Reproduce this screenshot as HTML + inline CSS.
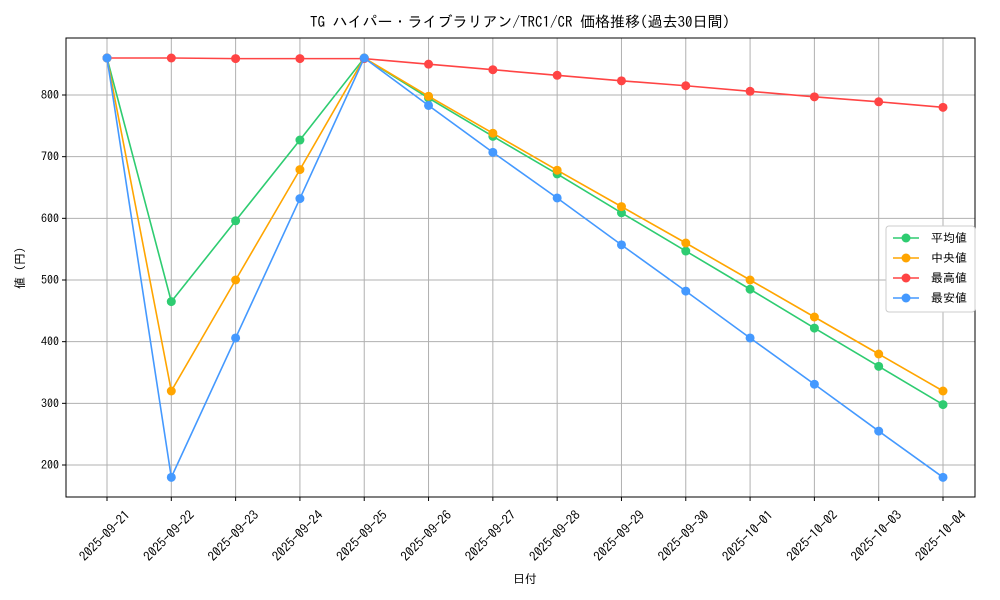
<!DOCTYPE html>
<html><head><meta charset="utf-8"><style>
body{margin:0;background:#fff}
svg{display:block;font-family:"IPAGothic","Liberation Mono","Noto Sans CJK JP",monospace}
</style></head><body>
<svg id="chart" width="1000" height="600" viewBox="0 0 1000 600" xmlns="http://www.w3.org/2000/svg">
<rect width="1000" height="600" fill="#fff"/>
<text x="520" y="27" text-anchor="middle" font-size="15">TG ハイパー・ライブラリアン/TRC1/CR 価格推移(過去30日間)</text>
<g id="grid"></g><g id="axes"></g><g id="series"></g>
<text x="525" y="583" text-anchor="middle" font-size="12">日付</text>
<text x="24" y="268" text-anchor="middle" font-size="12" transform="rotate(-90 24 268)">値 (円)</text>
<g id="legend"></g>
</svg>
<script>
const dates=["2025-09-21","2025-09-22","2025-09-23","2025-09-24","2025-09-25","2025-09-26","2025-09-27","2025-09-28","2025-09-29","2025-09-30","2025-10-01","2025-10-02","2025-10-03","2025-10-04"];
const avgVals=[860,465,596,727,860,795,733,672,609,547,485,422,360,298];
const medVals=[860,320,500,679,860,798,738,678,619,560,500,440,380,320];
const maxVals=[860,860,859,859,859,850,841,832,823,815,806,797,789,780];
const minVals=[860,180,406,632,860,783,707,633,557,482,406,331,255,180];
const yTicks=[200,300,400,500,600,700,800];
const seriesNames=["平均値","中央値","最高値","最安値"];
const colors=["#2ecc71","#ffa500","#ff4444","#4499ff"];
const L=66,R=975,T=38,B=497;
const x=i=>107+i*(943-107)/(dates.length-1);
const y=v=>95+(800-v)*370/600;
const NS="http://www.w3.org/2000/svg";
function mk(tag,attrs,parent,text){const e=document.createElementNS(NS,tag);for(const k in attrs)e.setAttribute(k,attrs[k]);if(text!==undefined)e.textContent=text;parent.appendChild(e);return e;}
const grid=document.getElementById('grid'),axes=document.getElementById('axes'),ser=document.getElementById('series'),leg=document.getElementById('legend');
dates.forEach((d,i)=>{
 const g=mk('line',{x1:x(i),x2:x(i),y1:T,y2:B,stroke:'#b0b0b0','stroke-width':1},grid);
 
 
 mk('line',{x1:x(i),x2:x(i),y1:B,y2:B+4,stroke:'#000'},axes);
 const cx=x(i)-2,cy=B+39;
 const t=mk('text',{x:cx,y:cy+4,'font-size':13,'text-anchor':'middle',transform:`rotate(-45 ${cx} ${cy})`},axes,d);
 
 
});
yTicks.forEach(v=>{
 const g=mk('line',{x1:L,x2:R,y1:y(v),y2:y(v),stroke:'#b0b0b0','stroke-width':1},grid);
 
 
 mk('line',{x1:L-4,x2:L,y1:y(v),y2:y(v),stroke:'#000'},axes);
 const t=mk('text',{x:L-7,y:y(v)+4,'font-size':12,'text-anchor':'end'},axes,v);
 
 
});
const frame=mk('rect',{x:L,y:T,width:R-L,height:B-T,fill:'none',stroke:'#000'},axes);


[avgVals,medVals,maxVals,minVals].forEach((vals,s)=>{
 const p=mk('polyline',{points:vals.map((v,i)=>x(i)+','+y(v)).join(' '),fill:'none',stroke:colors[s],'stroke-width':1.6},ser);
 
 
 vals.forEach((v,i)=>{
  const c=mk('circle',{cx:x(i),cy:y(v),r:4.5,fill:colors[s]},ser);
  
  
 });
});
const box=mk('rect',{x:886,y:226,width:89,height:86,fill:'#fff',stroke:'#ccc',rx:3},leg);


seriesNames.forEach((n,s)=>{
 const yy=238+s*20;
 mk('line',{x1:893,x2:919,y1:yy,y2:yy,stroke:colors[s],'stroke-width':1.6},leg);
 mk('circle',{cx:906,cy:yy,r:4.5,fill:colors[s]},leg);
 const t=mk('text',{x:931,y:yy+4,'font-size':12},leg,n);
 
 
});
</script>
</body></html>
